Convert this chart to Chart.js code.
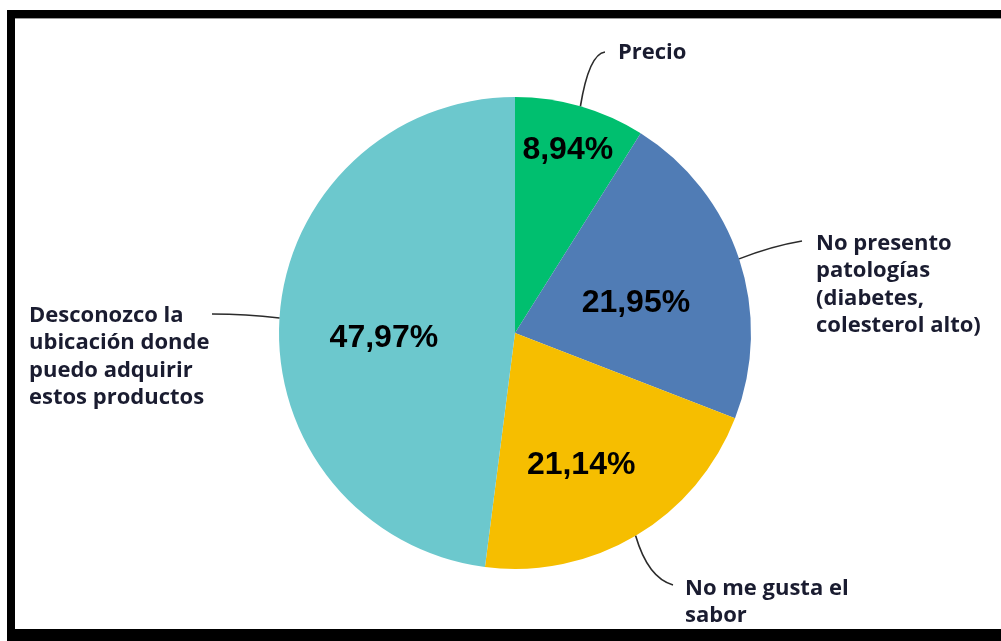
<!DOCTYPE html>
<html>
<head>
<meta charset="utf-8">
<title>Motivos</title>
<script src="https://cdn.jsdelivr.net/npm/chart.js@4/dist/chart.umd.min.js"></script>
<style>
  html, body { margin: 0; padding: 0; background: #fff; }
  #wrap { width: 1001px; height: 641px; position: relative; }
</style>
</head>
<body>
<div id="wrap"><canvas id="c" width="1001" height="641"></canvas></div>
<script>
// Slices, clockwise from 12 o'clock
const categories = [
  'Precio',
  'No presento patologías (diabetes, colesterol alto)',
  'No me gusta el sabor',
  'Desconozco la ubicación donde puedo adquirir estos productos'
];
const categoryLines = [
  ['Precio'],
  ['No presento', 'patologías', '(diabetes,', 'colesterol alto)'],
  ['No me gusta el', 'sabor'],
  ['Desconozco la', 'ubicación donde', 'puedo adquirir', 'estos productos']
];
const percentages = [8.94, 21.95, 21.14, 47.97];
const sliceColors = ['#00BF6F', '#507CB5', '#F6BE00', '#6CC8CD'];

// Where the percentage sits inside each slice: fraction of radius, angle nudge (deg)
const valuePlacement = [
  { frac: 0.807, nudge: 0 },
  { frac: 0.528, nudge: 4.3 },
  { frac: 0.625, nudge: 4.1 },
  { frac: 0.556, nudge: -5.9 }
];

// Callout text blocks and leader lines (leader starts at the slice rim)
const callouts = [
  { end: [605, 52],  ctrl: [589, 54],  x: 618, y: 59,  align: 'left' },
  { end: [802, 241], ctrl: [772, 246], x: 816, y: 250, align: 'left' },
  { end: [673, 585], ctrl: [648, 578], x: 685, y: 595, align: 'left' },
  { end: [212, 314], ctrl: [246, 314], x: 29,  y: 322, align: 'left' }
];

const fmt = v => v.toFixed(2).replace('.', ',') + '%';

const framePlugin = {
  id: 'frame',
  beforeDraw(chart) {
    const ctx = chart.ctx;
    ctx.save();
    ctx.fillStyle = '#ffffff';
    ctx.fillRect(0, 0, chart.width, chart.height);
    ctx.fillStyle = '#000000';
    ctx.fillRect(7, 10, chart.width - 7, 8);   // top rule
    ctx.fillRect(7, 10, 8, chart.height - 10); // left rule
    ctx.fillRect(7, 629, chart.width - 7, 12); // bottom rule
    ctx.fillStyle = '#9a9a9a';
    ctx.fillRect(15, 18, chart.width - 15, 1);
    ctx.restore();
  }
};

const labelPlugin = {
  id: 'sliceLabels',
  afterDatasetsDraw(chart) {
    const ctx = chart.ctx;
    const arcs = chart.getDatasetMeta(0).data;
    ctx.save();
    arcs.forEach((arc, i) => {
      const mid = (arc.startAngle + arc.endAngle) / 2;
      // leader line from the rim
      const c = callouts[i];
      const sx = arc.x + Math.cos(mid) * arc.outerRadius;
      const sy = arc.y + Math.sin(mid) * arc.outerRadius;
      ctx.beginPath();
      ctx.moveTo(sx, sy);
      ctx.quadraticCurveTo(c.ctrl[0], c.ctrl[1], c.end[0], c.end[1]);
      ctx.strokeStyle = '#2b2b2b';
      ctx.lineWidth = 1.6;
      ctx.stroke();

      // callout text
      ctx.fillStyle = '#1a1c30';
      ctx.font = '700 22px "Open Sans"';
      ctx.textAlign = c.align;
      ctx.textBaseline = 'alphabetic';
      categoryLines[i].forEach((line, k) => {
        ctx.fillText(line, c.x, c.y + k * 27.3);
      });

      // percentage inside slice
      const p = valuePlacement[i];
      const a = mid + p.nudge * Math.PI / 180;
      const r = arc.outerRadius * p.frac;
      ctx.fillStyle = '#000000';
      ctx.font = '700 32px "Liberation Sans"';
      ctx.textAlign = 'center';
      ctx.textBaseline = 'middle';
      ctx.fillText(fmt(percentages[i]), arc.x + Math.cos(a) * r, arc.y + Math.sin(a) * r);
    });
    ctx.restore();
  }
};

new Chart(document.getElementById('c'), {
  type: 'pie',
  data: {
    labels: categories,
    datasets: [{
      data: percentages,
      backgroundColor: sliceColors,
      borderWidth: 0
    }]
  },
  options: {
    responsive: false,
    devicePixelRatio: 1,
    animation: false,
    layout: { padding: { left: 279, right: 250, top: 97, bottom: 72 } },
    plugins: {
      legend: { display: false },
      tooltip: { enabled: false }
    }
  },
  plugins: [framePlugin, labelPlugin]
});
</script>
</body>
</html>
